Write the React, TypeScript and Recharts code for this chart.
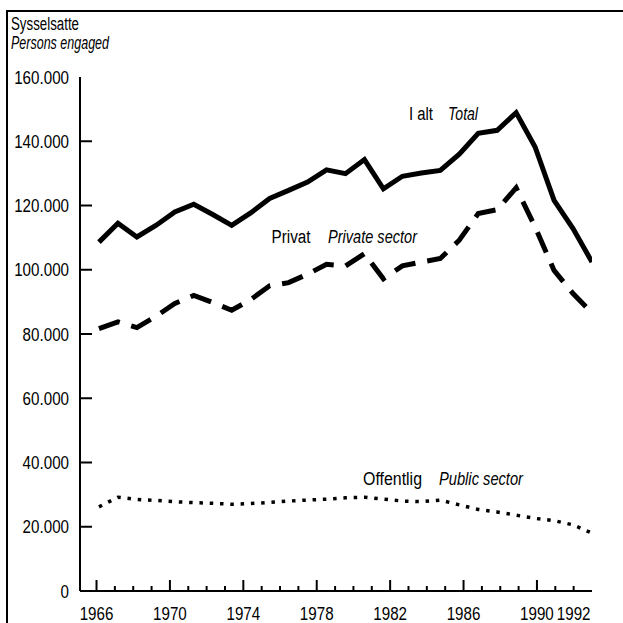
import { LineChart, Line, XAxis, YAxis } from "recharts";

const FONT = '"Liberation Sans", Arial, sans-serif';
const SX = 0.82; // narrow look, like Helvetica Narrow in the print

// årstall / years
const years = [
  1966, 1967, 1968, 1969, 1970, 1971, 1972, 1973, 1974, 1975, 1976, 1977, 1978, 1979,
  1980, 1981, 1982, 1983, 1984, 1985, 1986, 1987, 1988, 1989, 1990, 1991, 1992,
];

// I alt / Total
const total = [
  108600, 114500, 110200, 113800, 118000, 120400, 117200, 113800, 117700, 122200, 124700,
  127300, 131100, 129900, 134300, 125200, 129100, 130100, 130900, 136000, 142500, 143400,
  148900, 138200, 121600, 112800, 102400,
];

// Privat / Private sector
const privat = [
  81700, 83800, 82000, 85500, 89500, 92000, 89800, 87400, 90700, 95000, 96000, 98600,
  101700, 101200, 105000, 97200, 101200, 102400, 103500, 109200, 117500, 118700, 125500,
  113300, 99800, 92600, 86500,
];

// Offentlig / Public sector
const offentlig = [
  26200, 29200, 28500, 28200, 27800, 27500, 27300, 27000, 27200, 27600, 28000, 28300,
  28600, 29000, 29200, 28600, 28000, 27800, 28300, 26800, 25400, 24600, 23600, 22600,
  21900, 20600, 18000,
];

const yTicks = [0, 20000, 40000, 60000, 80000, 100000, 120000, 140000, 160000];
const xTicks = [
  1966, 1967, 1968, 1969, 1970, 1971, 1972, 1973, 1974, 1975, 1976, 1977, 1978, 1979,
  1980, 1981, 1982, 1983, 1984, 1985, 1986, 1987, 1988, 1989, 1990, 1991, 1992,
];
const xLabels = [1966, 1970, 1974, 1978, 1982, 1986, 1990, 1992];

const data = years.map((year, i) => ({
  year,
  total: total[i],
  privat: privat[i],
  offentlig: offentlig[i],
}));

const fmt = (v: number) => (v === 0 ? "0" : v.toLocaleString("de-DE"));

function Narrow({ x, y, anchor = "start", children }: any) {
  return (
    <g transform={`translate(${x},${y}) scale(${SX},1)`}>
      <text x={0} y={0} textAnchor={anchor} fontFamily={FONT} fontSize={18.5} fill="#000">
        {children}
      </text>
    </g>
  );
}

function YTick(props: any) {
  const { x, y, payload } = props;
  const v = payload.value;
  const axisX = x + 11;
  return (
    <g>
      <Narrow x={x} y={y + 6.5} anchor="end">
        {fmt(v)}
      </Narrow>
      {v > 0 && v < 160000 && (
        <line x1={axisX} x2={axisX + 12} y1={y} y2={y} stroke="#000" strokeWidth={2} />
      )}
    </g>
  );
}

function XTick(props: any) {
  const { x, y, payload } = props;
  const v = payload.value;
  const major = (v - 1966) % 4 === 0;
  return (
    <g>
      <line x1={x} x2={x} y1={y} y2={y - (major ? 11 : 5)} stroke="#000" strokeWidth={2} />
      {xLabels.includes(v) && (
        <Narrow x={x} y={y + 29} anchor="middle">
          {v}
        </Narrow>
      )}
    </g>
  );
}

function Label({ x, y, w, italic, children }: any) {
  return (
    <text
      x={x}
      y={y}
      textLength={w}
      lengthAdjust="spacingAndGlyphs"
      fontStyle={italic ? "italic" : "normal"}
    >
      {children}
    </text>
  );
}

export default function App() {
  return (
    <div style={{ position: "absolute", left: 0, top: 0, width: 623, height: 623, background: "#fff" }}>
      <LineChart
        width={623}
        height={623}
        data={data}
        margin={{ top: 77, right: 31, left: 0, bottom: 0 }}
      >
        <XAxis
          xAxisId="t"
          dataKey="year"
          type="number"
          domain={[1965.1, 1993]}
          allowDataOverflow
          ticks={xTicks}
          interval={0}
          tick={<XTick />}
          tickLine={false}
          tickSize={0}
          tickMargin={0}
          height={32}
          axisLine={{ stroke: "#000", strokeWidth: 2 }}
        />
        <XAxis
          xAxisId="d"
          dataKey="year"
          type="number"
          domain={[1965, 1992]}
          hide
          height={0}
          allowDataOverflow
        />
        <YAxis
          type="number"
          domain={[0, 160000]}
          ticks={yTicks}
          interval={0}
          width={80}
          tick={<YTick />}
          tickLine={false}
          tickSize={0}
          tickMargin={11}
          axisLine={{ stroke: "#000", strokeWidth: 2 }}
        />
        <Line
          xAxisId="d"
          dataKey="total"
          stroke="#000"
          strokeWidth={5}
          dot={false}
          type="linear"
          isAnimationActive={false}
        />
        <Line
          xAxisId="d"
          dataKey="privat"
          stroke="#000"
          strokeWidth={5}
          strokeDasharray="22 12"
          dot={false}
          type="linear"
          isAnimationActive={false}
        />
        <Line
          xAxisId="d"
          dataKey="offentlig"
          stroke="#000"
          strokeWidth={3.5}
          strokeDasharray="3.5 6.8"
          dot={false}
          type="linear"
          isAnimationActive={false}
        />
      </LineChart>
      <svg
        width={623}
        height={623}
        style={{ position: "absolute", left: 0, top: 0, pointerEvents: "none" }}
        fontFamily={FONT}
        fontSize={18}
      >
        <line x1={7} x2={7} y1={10} y2={623} stroke="#000" strokeWidth={2} />
        <line x1={6} x2={623} y1={11} y2={11} stroke="#000" strokeWidth={2} />
        <Label x={11} y={30} w={68}>Sysselsatte</Label>
        <Label x={11} y={49} w={98} italic>Persons engaged</Label>
        <Label x={409} y={120} w={24}>I alt</Label>
        <Label x={448} y={120} w={30} italic>Total</Label>
        <Label x={271.5} y={243} w={39}>Privat</Label>
        <Label x={328} y={243} w={89} italic>Private sector</Label>
        <Label x={363} y={485} w={59}>Offentlig</Label>
        <Label x={439} y={485} w={84} italic>Public sector</Label>
      </svg>
    </div>
  );
}
